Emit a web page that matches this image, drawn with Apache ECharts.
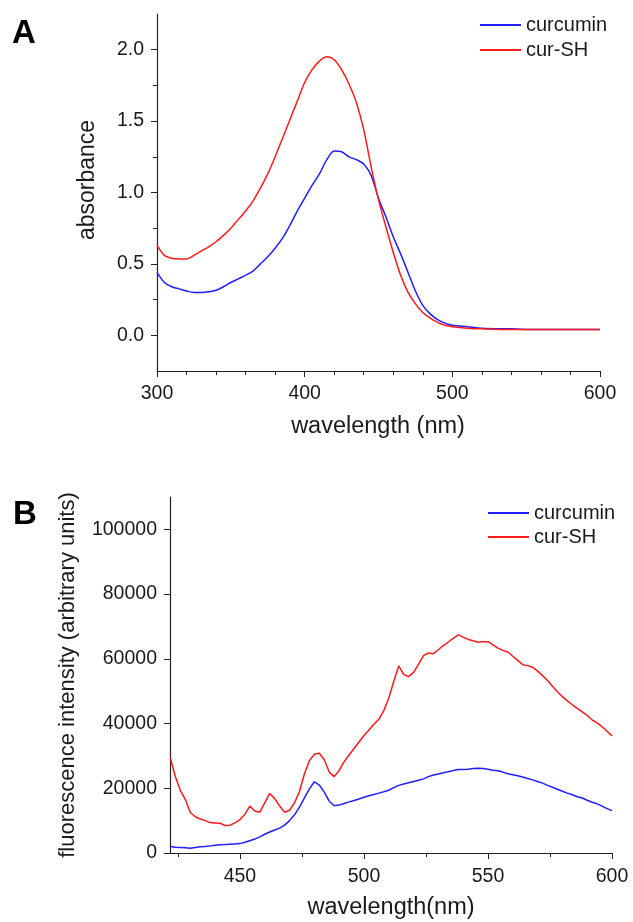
<!DOCTYPE html>
<html><head><meta charset="utf-8">
<script src="https://cdn.jsdelivr.net/npm/echarts@6/dist/echarts.min.js"></script>
<style>html,body{margin:0;padding:0;background:#fff}#c{width:633px;height:922px}</style>
</head><body><div id="c"></div>
<script>
// Panel A: absorbance
const wavelengthA = [300,305,310,315,320,325,330,335,340,345,350,355,360,365,370,375,380,385,390,395,400,405,410,415,420,425,430,435,440,445,450,455,460,465,470,475,480,485,490,495,500,510,520,540,560,580,600];
const curcuminA = [0.44,0.37,0.34,0.325,0.31,0.30,0.30,0.305,0.315,0.34,0.37,0.395,0.42,0.45,0.50,0.55,0.61,0.68,0.77,0.87,0.96,1.05,1.13,1.23,1.29,1.285,1.25,1.23,1.20,1.12,0.96,0.83,0.69,0.57,0.44,0.31,0.21,0.15,0.11,0.085,0.07,0.06,0.05,0.045,0.04,0.04,0.04];
const curSHA = [0.63,0.56,0.54,0.535,0.535,0.56,0.59,0.62,0.655,0.70,0.75,0.81,0.87,0.94,1.03,1.13,1.25,1.38,1.51,1.64,1.77,1.86,1.92,1.95,1.93,1.86,1.76,1.63,1.44,1.18,0.95,0.76,0.58,0.42,0.30,0.22,0.16,0.12,0.09,0.07,0.06,0.05,0.045,0.04,0.04,0.04,0.04];
const yTicksA = [0,0.5,1,1.5,2];
const yMinorA = [0.25,0.75,1.25,1.75];

// Panel B: fluorescence
const wavelengthB = [422,424,426,428,430,432,434,436,438,440,442,444,446,448,450,452,454,456,458,460,462,464,466,468,470,472,474,476,478,480,482,484,486,488,490,492,494,496,498,500,502,504,506,508,510,512,514,516,518,520,522,524,526,528,530,532,534,536,538,540,542,544,546,548,550,552,554,556,558,560,562,564,566,568,570,572,574,576,578,580,582,584,586,588,590,592,594,596,598,600];
const curSHB = [29200,23500,19300,16500,12500,11200,10500,10000,9400,9300,9200,8500,8600,9300,10300,12000,14500,13000,12600,15500,18400,16800,14500,12600,13200,15500,19000,24500,28500,30500,30800,28800,25000,23600,25500,28200,30300,32300,34300,36300,38000,39800,41300,44000,47800,53000,57800,55200,54500,55800,58300,61000,61800,61600,62800,64100,65200,66300,67400,66700,66000,65600,65100,65300,65300,64300,63300,62600,62100,60800,59500,58200,57900,57400,56200,54800,53300,51500,49800,48300,47000,45800,44700,43600,42500,41100,40200,39000,37600,36200];
const curcuminB = [2000,1800,1700,1600,1500,1700,1900,2000,2200,2400,2550,2600,2700,2800,2900,3300,3800,4300,5000,5800,6500,7100,7700,8600,10000,11800,14200,17000,19800,22000,21000,18800,16000,14600,14800,15300,15800,16200,16700,17200,17700,18100,18500,18900,19400,20200,20900,21300,21700,22100,22500,22900,23600,24100,24400,24800,25100,25500,25800,25800,25900,26100,26200,26100,25900,25600,25400,25000,24500,24200,23900,23500,23000,22600,22100,21600,20900,20300,19700,19100,18500,18000,17400,17000,16300,15700,15200,14500,13700,13100];
const xTicksB = [450,500,550,600];
const xMinorB = [425,475,525,575];
const yTicksB = [0,20000,40000,60000,80000,100000];

const FONT = '"Liberation Sans", Arial, sans-serif';
const AX = '#222';
const BLUE = '#1f1fff';
const RED = '#ff1a1a';

function pairs(xs, ys){ return xs.map((x,i)=>[x, ys[i]]); }

const lineStyleAx = {show:true, onZero:false, lineStyle:{color:AX, width:1.2}};
const labelBase = {fontFamily:FONT, fontSize:19.5, color:'#1a1a1a'};

const chart = echarts.init(document.getElementById('c'), null, {renderer:'canvas'});
chart.setOption({
  animation:false,
  backgroundColor:'#fff',
  grid:[
    {left:157, top:14, right:33, bottom:551},
    {left:170, top:497, right:21, bottom:69}
  ],
  xAxis:[
    {gridIndex:0, type:'value', min:300, max:600, interval:100,
      axisLine:lineStyleAx, splitLine:{show:false},
      axisTick:{show:true, length:6, lineStyle:{color:AX}},
      minorTick:{show:true, splitNumber:5, length:4, lineStyle:{color:AX}},
      axisLabel:Object.assign({}, labelBase, {margin:13})},
    {gridIndex:1, type:'value', min:421.8, max:600, position:'bottom',
      axisLine:lineStyleAx, splitLine:{show:false},
      axisTick:{show:true, length:6, customValues:xTicksB, lineStyle:{color:AX}},
      axisLabel:Object.assign({}, labelBase, {margin:14, customValues:xTicksB})},
    {gridIndex:1, type:'value', min:421.8, max:600, position:'bottom', offset:0,
      axisLine:{show:false, onZero:false}, splitLine:{show:false}, axisLabel:{show:false},
      axisTick:{show:true, length:4, customValues:xMinorB, lineStyle:{color:AX}}}
  ],
  yAxis:[
    {gridIndex:0, type:'value', min:-0.25, max:2.25,
      axisLine:lineStyleAx, splitLine:{show:false},
      axisTick:{show:true, length:6, customValues:yTicksA, lineStyle:{color:AX}},
      axisLabel:Object.assign({}, labelBase, {margin:13, customValues:yTicksA, formatter:v=>Number(v).toFixed(1)})},
    {gridIndex:0, type:'value', min:-0.25, max:2.25, position:'left', offset:0,
      axisLine:{show:false, onZero:false}, splitLine:{show:false}, axisLabel:{show:false},
      axisTick:{show:true, length:4, customValues:yMinorA, lineStyle:{color:AX}}},
    {gridIndex:1, type:'value', min:0, max:110000,
      axisLine:lineStyleAx, splitLine:{show:false},
      axisTick:{show:true, length:6, customValues:yTicksB, lineStyle:{color:AX}},
      axisLabel:Object.assign({}, labelBase, {margin:13, customValues:yTicksB, formatter:v=>String(v)})}
  ],
  legend:[
    {data:['curcumin','cur-SH'], orient:'vertical', left:480, top:15, padding:0, itemWidth:41, itemHeight:2, itemGap:5, icon:'rect', selectedMode:false,
      textStyle:{fontFamily:FONT, fontSize:20, color:'#1a1a1a'}},
    {data:['curcumin','cur-SH'], orient:'vertical', left:488, top:503, padding:0, itemWidth:41, itemHeight:2, itemGap:4, icon:'rect', selectedMode:false,
      textStyle:{fontFamily:FONT, fontSize:20, color:'#1a1a1a'}}
  ],
  series:[
    {name:'curcumin', type:'line', xAxisIndex:0, yAxisIndex:0, data:pairs(wavelengthA, curcuminA), showSymbol:false, symbol:'none', smooth:0.3, color:BLUE, lineStyle:{width:1.5, color:BLUE}},
    {name:'cur-SH', type:'line', xAxisIndex:0, yAxisIndex:0, data:pairs(wavelengthA, curSHA), showSymbol:false, symbol:'none', smooth:0.3, color:RED, lineStyle:{width:1.5, color:RED}},
    {name:'curcumin', type:'line', xAxisIndex:1, yAxisIndex:2, data:pairs(wavelengthB, curcuminB), showSymbol:false, symbol:'none', color:BLUE, lineStyle:{width:1.5, color:BLUE}},
    {name:'cur-SH', type:'line', xAxisIndex:1, yAxisIndex:2, data:pairs(wavelengthB, curSHB), showSymbol:false, symbol:'none', color:RED, lineStyle:{width:1.5, color:RED}}
  ],
  graphic:[
    {type:'text', left:12, top:17, style:{text:'A', font:'bold 33px '+FONT, fill:'#000'}},
    {type:'text', left:13, top:498, style:{text:'B', font:'bold 33px '+FONT, fill:'#000'}},
    {type:'text', x:378, y:427, style:{text:'wavelength (nm)', font:'23.5px '+FONT, fill:'#1a1a1a', align:'center', verticalAlign:'middle'}},
    {type:'text', x:391, y:908, style:{text:'wavelength(nm)', font:'23.5px '+FONT, fill:'#1a1a1a', align:'center', verticalAlign:'middle'}},
    {type:'text', x:88, y:180, rotation:Math.PI/2, style:{text:'absorbance', font:'23px '+FONT, fill:'#1a1a1a', align:'center', verticalAlign:'middle'}},
    {type:'text', x:68, y:675, rotation:Math.PI/2, style:{text:'fluorescence intensity (arbitrary units)', font:'22px '+FONT, fill:'#1a1a1a', align:'center', verticalAlign:'middle'}}
  ]
});
</script>
</body></html>
